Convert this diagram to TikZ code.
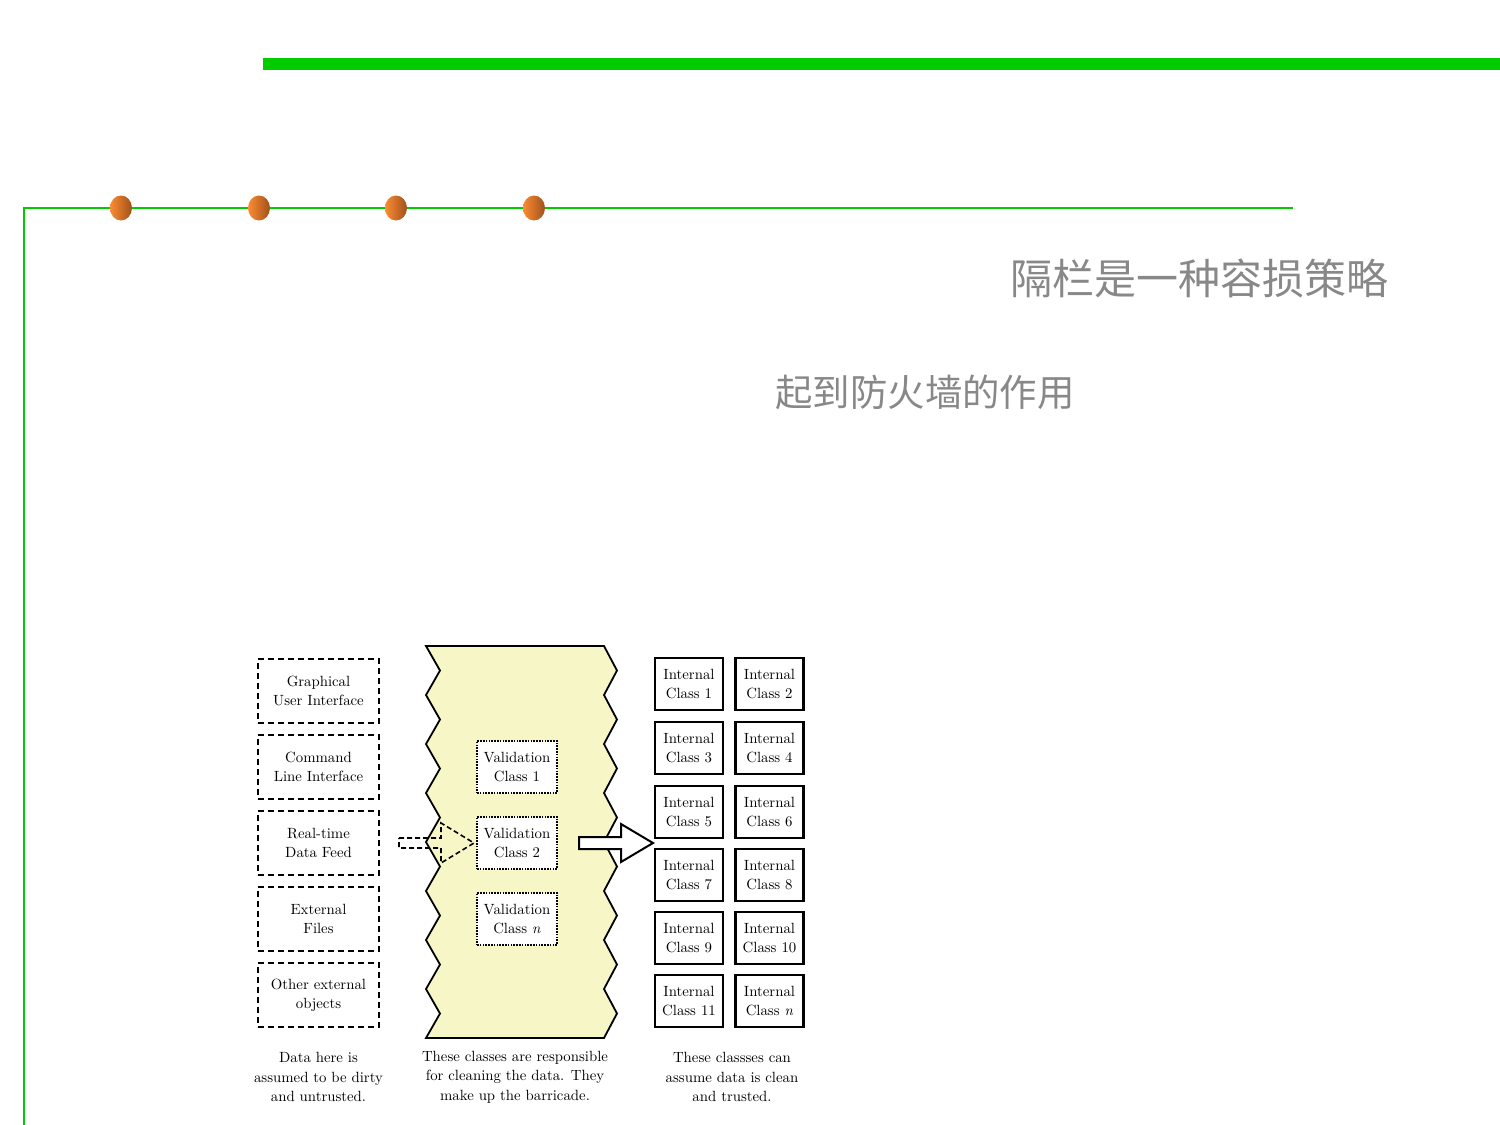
\documentclass[tikz,border=0pt]{standalone}
\usepackage{fontspec}
\setmainfont{lmroman10-regular.otf}[ItalicFont=lmroman10-italic.otf]
\newfontfamily\cjk{Noto Sans CJK SC}
\usetikzlibrary{calc}
\definecolor{slidegreen}{RGB}{0,204,0}
\definecolor{dotlight}{RGB}{252,140,50}
\definecolor{dotdark}{RGB}{160,80,28}
\definecolor{barrier}{RGB}{246,246,198}
\definecolor{titlegray}{RGB}{136,136,136}
\begin{document}
\begin{tikzpicture}[x=0.5pt,y=-0.5pt,
  every node/.style={inner sep=0pt, align=center, font=\fontsize{7.4}{9.6}\selectfont},
  outsidebox/.style={draw, line width=0.8pt, dash pattern=on 3pt off 2pt,
    minimum width=60.5pt, minimum height=32pt},
  validbox/.style={draw, fill=white, line width=0.9pt, dash pattern=on 0.8pt off 0.6pt,
    minimum width=40pt, minimum height=26pt},
  internalbox/.style={draw, line width=1.1pt, fill=white,
    minimum width=34pt, minimum height=26pt},
  caption/.style={font=\fontsize{7.4}{9.8}\selectfont},
  cjktitle/.style={anchor=west, text=titlegray}]
\useasboundingbox (0,0) rectangle (1500,1125);

% slide frame
\fill[slidegreen] (263,58) rectangle (1500,70);
\draw[slidegreen, line width=1pt] (24,1125) -- (24,208) -- (1293,208);
\foreach \cx in {121,259,396,534}
  \shade[left color=dotlight, right color=dotdark] (\cx,208) ellipse [x radius=11, y radius=12.5];

% headings
\node[cjktitle, font=\cjk\fontsize{21}{24}\selectfont] (head1) at (1010,278) {隔栏是一种容损策略};
\node[cjktitle, font=\cjk\fontsize{18.7}{22}\selectfont] (head2) at (775,392) {起到防火墙的作用};

% barricade with zigzag sides
\filldraw[fill=barrier, line width=0.9pt]
  (426,646) -- (604,646)
  \foreach \k in {1,...,16} { -- ({604+13*mod(\k,2)}, {646+24.5*\k}) }
  -- (426,1038)
  \foreach \k in {15,14,...,0} { -- ({426+14*mod(\k,2)}, {646+24.5*\k}) }
  -- cycle;

% external sources
\node[outsidebox] (gui) at (318.5,691) {Graphical\\User Interface};
\node[outsidebox] (cli) at (318.5,767) {Command\\Line Interface};
\node[outsidebox] (feed) at (318.5,843) {Real-time\\Data Feed};
\node[outsidebox] (files) at (318.5,919) {External\\Files};
\node[outsidebox] (other) at (318.5,995) {Other external\\objects};

% validation classes
\node[validbox] (v1) at (517,767) {Validation\\Class 1};
\node[validbox] (v2) at (517,843) {Validation\\Class 2};
\node[validbox] (vn) at (517,919) {Validation\\Class \textit{n}};

% internal classes
\foreach \r/\y in {0/684,1/748,2/812,3/875,4/938} {
  \pgfmathtruncatemacro{\a}{2*\r+1}
  \pgfmathtruncatemacro{\b}{2*\r+2}
  \node[internalbox] (ic\a) at (689,\y) {Internal\\Class \a};
  \node[internalbox] (ic\b) at (769.5,\y) {Internal\\Class \b};
}
\node[internalbox] (ic11) at (689,1001) {Internal\\Class 11};
\node[internalbox] (icn) at (769.5,1001) {Internal\\Class \textit{n}};

% incoming data arrow (dashed, open)
\draw[line width=0.8pt, dash pattern=on 2.5pt off 1.5pt]
  (399,838) -- (441,838) -- (441,823) -- (474,843) -- (441,863) -- (441,848) -- (399,848) -- cycle;
% clean data arrow
\filldraw[fill=white, line width=1pt]
  (579,837) -- (621,837) -- (621,824) -- (653,843) -- (621,862) -- (621,849) -- (579,849) -- cycle;

% captions
\node[caption] (cap1) at (318.5,1077) {Data here is\\assumed to be dirty\\and untrusted.};
\node[caption] (cap2) at (515,1077) {These classes are responsible\\for cleaning the data. They\\make up the barricade.};
\node[caption] (cap3) at (732,1077) {These classses can\\assume data is clean\\and trusted.};
\end{tikzpicture}
\end{document}
